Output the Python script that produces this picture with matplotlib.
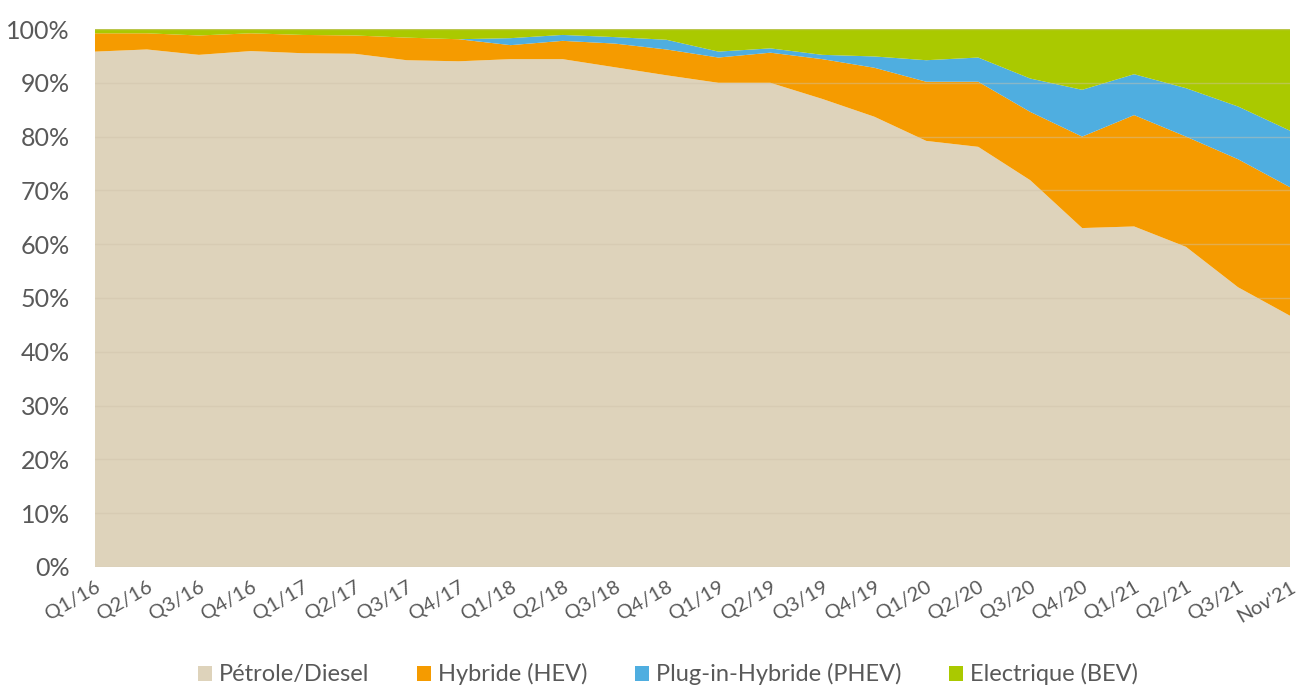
import matplotlib

matplotlib.use("Agg")
import matplotlib.pyplot as plt
from matplotlib.patches import Patch
from matplotlib.ticker import PercentFormatter

# (share of registrations, %)
periods = [
    "Q1/16", "Q2/16", "Q3/16", "Q4/16", "Q1/17", "Q2/17", "Q3/17", "Q4/17",
    "Q1/18", "Q2/18", "Q3/18", "Q4/18", "Q1/19", "Q2/19", "Q3/19", "Q4/19",
    "Q1/20", "Q2/20", "Q3/20", "Q4/20", "Q1/21", "Q2/21", "Q3/21", "Nov'21",
]
petrol_diesel = [95.8, 96.2, 95.2, 95.9, 95.5, 95.4, 94.2, 94.0, 94.4, 94.4, 92.9, 91.4,
                 90.0, 90.0, 87.0, 83.7, 79.2, 78.1, 71.9, 63.0, 63.3, 59.5, 52.0, 46.7]
hybrid_hev = [3.4, 3.0, 3.6, 3.3, 3.4, 3.4, 4.2, 4.1, 2.6, 3.4, 4.4, 4.8,
              4.7, 5.6, 7.4, 9.1, 11.0, 12.1, 12.7, 17.0, 20.7, 20.5, 23.8, 23.9]
plugin_phev = [0.0, 0.0, 0.0, 0.0, 0.0, 0.0, 0.0, 0.0, 1.3, 1.1, 1.2, 1.8,
               1.1, 0.8, 0.8, 2.1, 4.0, 4.5, 6.2, 8.7, 7.6, 9.0, 9.8, 10.5]
electric_bev = [100 - p - h - b for p, h, b in zip(petrol_diesel, hybrid_hev, plugin_phev)]

labels = ["Pétrole/Diesel", "Hybride (HEV)", "Plug-in-Hybride (PHEV)", "Electrique (BEV)"]
colors = ["#DED3BB", "#F59B00", "#4FAEE0", "#AAC900"]
text_color = "#595959"

plt.rcParams["font.family"] = ["Lato", "DejaVu Sans"]

fig = plt.figure(figsize=(12.97, 6.86), dpi=100)
ax = fig.add_axes([0.0732, 0.1735, 0.9214, 0.7842])

x = list(range(len(periods)))
ax.stackplot(x, petrol_diesel, hybrid_hev, plugin_phev, electric_bev,
             colors=colors, linewidth=0)

ax.set_xlim(0, len(periods) - 1)
ax.set_ylim(0, 100)
ax.set_yticks(range(0, 101, 10))
ax.yaxis.set_major_formatter(PercentFormatter(decimals=0))
ax.set_xticks(x)
ax.set_xticklabels(periods, rotation=30, ha="right", rotation_mode="anchor")

ax.grid(axis="y", color="#CFC3AA", linewidth=1, alpha=0.45)
ax.set_axisbelow(False)
ax.tick_params(axis="both", length=0, colors=text_color)
ax.tick_params(axis="y", labelsize=18, pad=18)
ax.tick_params(axis="x", labelsize=14.5, pad=8)
for side in ["top", "right", "left", "bottom"]:
    ax.spines[side].set_visible(False)

handles = [Patch(facecolor=c, edgecolor="none") for c in colors]
leg = fig.legend(handles, labels, loc="lower center", bbox_to_anchor=(0.515, -0.03),
                 ncol=4, frameon=False, fontsize=17, handlelength=0.6, handleheight=0.6,
                 handletextpad=0.3, columnspacing=2.0)
for t in leg.get_texts():
    t.set_color(text_color)

fig.savefig("out.png", dpi=100)
